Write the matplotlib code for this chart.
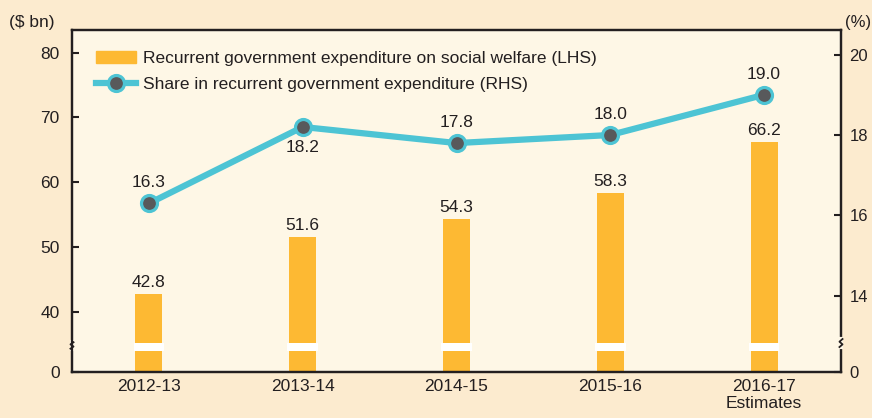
import numpy as np
import matplotlib.pyplot as plt
from matplotlib.transforms import blended_transform_factory

years = ["2012-13", "2013-14", "2014-15", "2015-16", "2016-17\nEstimates"]
welfare = [42.8, 51.6, 54.3, 58.3, 66.2]          # $ bn (LHS)
share = [16.3, 18.2, 17.8, 18.0, 19.0]           # % (RHS)
left_ticks = [0, 40, 50, 60, 70, 80]
right_ticks = [0, 14, 16, 18, 20]

plt.rcParams['font.family'] = ['Liberation Sans Narrow', 'Liberation Sans', 'DejaVu Sans']
FS = 12.5

bar_col = '#FDB933'
line_col = '#4DC4D4'
dot_col = '#58595B'
outer_bg = '#FCEBCF'
inner_bg = '#FEF7E6'
txt_col = '#231F20'

# broken axes: values above the break are shifted down
L_BREAK, L_OFF = 40, 9.3
R_BREAK, R_OFF = 14, 1.89


def lmap(v):
    v = np.asarray(v, dtype=float)
    return np.where(v >= L_BREAK, v - L_BREAK + L_OFF, 0.0)


def rmap(v):
    v = np.asarray(v, dtype=float)
    return np.where(v >= R_BREAK, v - R_BREAK + R_OFF, 0.0)


fig = plt.figure(figsize=(8.72, 4.18), dpi=100, facecolor=outer_bg)
ax = fig.add_axes([72 / 872, 1 - 372 / 418, 769 / 872, 342 / 418])
ax.set_facecolor(inner_bg)
ax2 = ax.twinx()

x = np.arange(len(years))
ax.set_xlim(-0.5, 4.5)
ax.set_ylim(0, 52.8)
ax2.set_ylim(0, 8.5)

ax.bar(x, lmap(welfare), width=0.176, color=bar_col, zorder=2)
# white gap in bars at the break
ax.bar(x, 4.48 - 3.24, bottom=3.24, width=0.2, color='white', zorder=3)
for xi, v in zip(x, welfare):
    ax.text(xi, lmap(v) + 0.6, f"{v:.1f}", ha='center', va='bottom', fontsize=FS, color=txt_col)

ax2.plot(x, rmap(share), color=line_col, lw=4.5, zorder=4, solid_capstyle='round',
         marker='o', ms=11.5, mfc=dot_col, mec=line_col, mew=2.3)
for i, (xi, v) in enumerate(zip(x, share)):
    if i == 1:
        ax2.text(xi, rmap(v) - 0.33, f"{v:.1f}", ha='center', va='top', fontsize=FS, color=txt_col)
    else:
        ax2.text(xi, rmap(v) + 0.33, f"{v:.1f}", ha='center', va='bottom', fontsize=FS, color=txt_col)

ax.set_yticks(lmap(left_ticks))
ax.set_yticklabels([str(t) for t in left_ticks])
ax2.set_yticks(rmap(right_ticks))
ax2.set_yticklabels([str(t) for t in right_ticks])
ax.set_xticks(x)
ax.set_xticklabels(years, linespacing=1.15)
ax.tick_params(axis='x', length=0, labelsize=FS, colors=txt_col, pad=5)
ax.tick_params(axis='y', direction='in', length=5, width=1.5, labelsize=FS, colors=txt_col, pad=9)
ax2.tick_params(axis='y', direction='in', length=5, width=1.5, labelsize=12, colors=txt_col, pad=6)
for a in (ax, ax2):
    for s in a.spines.values():
        s.set_linewidth(1.6)
        s.set_color(txt_col)

# break marks on the spines
for a, xpos, ylo, yhi in ((ax, 0, 3.6, 4.6), (ax2, 1, 0.62, 0.82)):
    tr = blended_transform_factory(a.transAxes, a.transData)
    a.plot([xpos, xpos], [ylo, yhi], color=inner_bg, lw=3, transform=tr, clip_on=False, zorder=5)
    ys = np.linspace(ylo, yhi, 4)
    a.plot([xpos + d for d in (-0.002, 0.002, -0.002, 0.002)], ys, color=txt_col, lw=1.3,
           transform=tr, clip_on=False, zorder=6)

fig.text(9 / 872, 1 - 22 / 418, "($ bn)", fontsize=FS, color=txt_col, va='center')
fig.text(845 / 872, 1 - 22 / 418, "(%)", fontsize=12, color=txt_col, va='center')

# legend
h1 = plt.Rectangle((0, 0), 1, 1, color=bar_col)
h2, = ax2.plot([], [], color=line_col, lw=4.5, marker='o', ms=11.5, mfc=dot_col, mec=line_col, mew=2.3)
leg = ax2.legend([h1, h2], ["Recurrent government expenditure on social welfare (LHS)",
                            "Share in recurrent government expenditure (RHS)"],
                 loc='upper left', bbox_to_anchor=(0.0104, 0.985), frameon=False, fontsize=FS,
                 handlelength=2.3, handleheight=0.75, labelspacing=0.6, handletextpad=0.45)
for t in leg.get_texts():
    t.set_color(txt_col)

fig.savefig("out.png", dpi=100, facecolor=outer_bg)
